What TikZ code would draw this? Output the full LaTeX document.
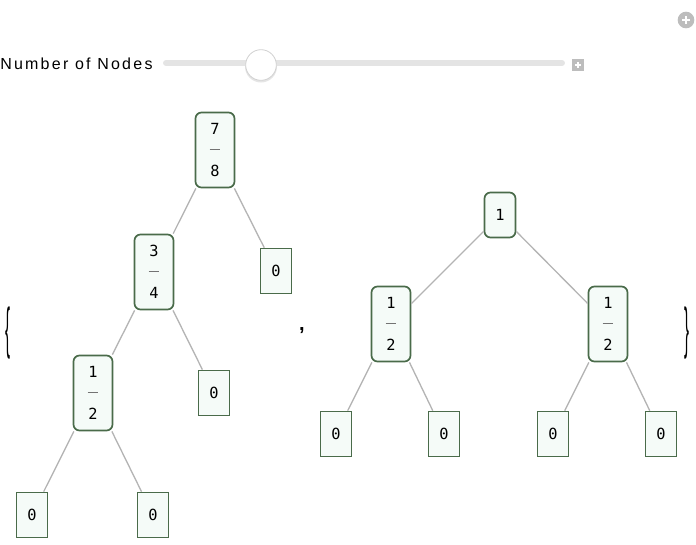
\documentclass[tikz,border=0pt]{standalone}
\usepackage{fontspec}
\usepackage{graphicx}
\setmainfont{Liberation Sans}
\newfontfamily\labelfont[LetterSpace=14]{Liberation Sans}
\newfontfamily\digitfont{DejaVu Sans Mono}
\definecolor{nodegreen}{HTML}{4A6B4A}
\definecolor{nodefill}{HTML}{F5FBF8}
\definecolor{edgegray}{HTML}{B4B4B4}
\definecolor{trackgray}{HTML}{E4E4E4}
\definecolor{btngray}{HTML}{BDBDBD}
\tikzset{
  leaf/.style={draw=nodegreen, fill=nodefill, line width=1.3pt, inner sep=0pt,
    minimum width=23.25pt, minimum height=33.75pt,
    font=\digitfont\fontsize{11.5}{15.75}\selectfont},
  inner/.style={leaf, rounded corners=4.5pt},
  fracnode/.style={inner, minimum width=29.25pt, minimum height=56.25pt, align=center},
  link/.style={draw=edgegray, line width=1pt},
  bracket/.style={inner sep=0pt, font=\fontsize{14}{14}\selectfont},
}
\newcommand{\fr}[2]{#1\\\textcolor{black!55}{\rule[4.5pt]{8pt}{0.5pt}}\\#2}
\begin{document}
\begin{tikzpicture}[x=0.75pt,y=-0.75pt]
\useasboundingbox (0,0) rectangle (696,544);
% controls
\node[anchor=west, inner sep=0pt, font=\labelfont\fontsize{12}{15}\selectfont] (label) at (0,64) {Number of Nodes};
\coordinate (trackl) at (166,63);
\coordinate (trackr) at (562,63);
\draw[trackgray, line width=4.5pt, line cap=round] (trackl) -- (trackr);
\fill[black!10] (261,66.5) circle (16);
\node[circle, draw=black!18, fill=white, line width=0.6pt, minimum size=23pt, inner sep=0pt] (knob) at (261,65) {};
\node[fill=btngray, minimum size=9.5pt, inner sep=0pt] (plusbtn) at (578,65) {};
\draw[white, line width=1.3pt] (plusbtn.center) +(-3.2,0) -- +(3.2,0) (plusbtn.center) +(0,-3.2) -- +(0,3.2);
\node[circle, fill=btngray, minimum size=12.5pt, inner sep=0pt] (corner) at (686,20) {};
\draw[white, line width=1.4pt] (corner.center) +(-4,0) -- +(4,0) (corner.center) +(0,-4) -- +(0,4);
% braces and comma
\node[bracket] (lbrace) at (8,333) {\scalebox{0.8}[3]{\{}};
\node[bracket] (rbrace) at (687,333) {\scalebox{0.8}[3]{\}}};
\node[font=\bfseries\fontsize{15}{15}\selectfont, inner sep=0pt] (comma) at (302,331) {,};
% left tree
\node[fracnode] (a78) at (215,150) {\fr{7}{8}};
\node[fracnode] (a34) at (154,272) {\fr{3}{4}};
\node[leaf] (az1) at (276,271) {0};
\node[fracnode] (a12) at (93,393) {\fr{1}{2}};
\node[leaf] (az2) at (214,393) {0};
\node[leaf] (az3) at (32,515) {0};
\node[leaf] (az4) at (153,515) {0};
\draw[link] (a78) -- (a34);
\draw[link] (a78) -- (az1);
\draw[link] (a34) -- (a12);
\draw[link] (a34) -- (az2);
\draw[link] (a12) -- (az3);
\draw[link] (a12) -- (az4);
% right tree
\node[inner] (b1) at (500,215) {1};
\node[fracnode] (b12l) at (391,324) {\fr{1}{2}};
\node[fracnode] (b12r) at (608,324) {\fr{1}{2}};
\node[leaf] (bz1) at (336,434) {0};
\node[leaf] (bz2) at (444,434) {0};
\node[leaf] (bz3) at (553,434) {0};
\node[leaf] (bz4) at (661,434) {0};
\draw[link] (b1) -- (b12l);
\draw[link] (b1) -- (b12r);
\draw[link] (b12l) -- (bz1);
\draw[link] (b12l) -- (bz2);
\draw[link] (b12r) -- (bz3);
\draw[link] (b12r) -- (bz4);
\end{tikzpicture}
\end{document}
